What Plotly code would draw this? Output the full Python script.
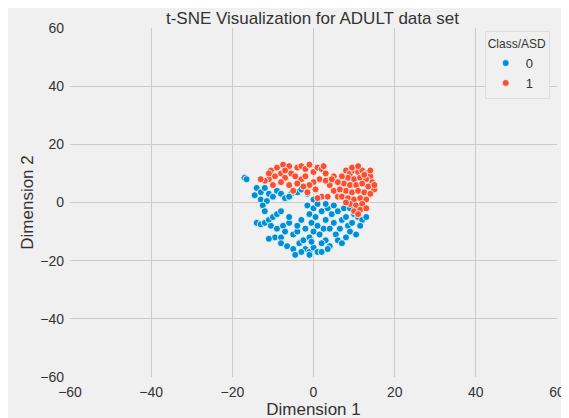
import plotly.graph_objects as go

red_x = [-10.5, -9, -7.5, -6, -8, -9.5, -11, -12, -7, -5.5, -4, -3, -2, -1, -4.5, -3, -6, -4, -2, 0, 1, 2, 3, 1.5, 0, -1,
         -1.5, 0.5, 2, 1, 3.5, 4, 3, 5, 6, -8, -10, -5, -2.5, 2.5, -13, -11, -7,
         8, 9, 10, 11, 12, 13, 14, 8.5, 10, 11.5, 13, 14.5, 7.5, 9, 10.5, 12, 13.5, 15, 8, 9.5, 11, 12.5, 14, 7, 8.5, 10,
         11.5, 13, 9, 10.5, 12, 10, 11.5, 6.5, 7, 6, 12.5, 9.5, 11, 14, 15, 8, 11, 13, 5, 4.5]
red_y = [11, 12, 13, 12.5, 10, 9, 8, 7.5, 8.5, 10, 12, 12.5, 11.5, 13, 9, 8, 6, 6.5, 9, 10.5, 12, 11.5, 10, 8, 7, 6,
         3.5, 4.5, 2, 1.5, 2, 6, 7.5, 4, 2, 7, 6, 4, 5.5, 12.5, 8, 10, 11,
         11, 10, 11, 10.5, 11, 10, 9, 8.5, 8, 8.5, 8, 7, 6.5, 6, 6, 6.5, 5.5, 4.5, 4, 3.5, 4, 3.5, 3, 2, 1.5, 1,
         1.5, 1, -0.5, -1, -0.5, -3, -2.5, 4.5, 9, 7, 9.5, 12, 12.5, 11, 6, 0, -4, -2, 9, 8]

blue_x = [-17, -16.5, -14, -13, -12, -11, -14.5, -13, -11.5, -10, -9, -8, -7, -5.5, -4, -3, -6, -12.5, -1.5,
          -14, -13, -12, -11, -10, -9, -8, -10.5, -9, -7.5, -6, -9.5, -8, -11, -7, -5, -4, -8, -6.5, -5, -3.5, -2,
          -1, 0, 1, -3, -4.5, -2.5, -1, -6, -12,
          -1.5, 0, -1, 0.5, -0.5, 1, 0, 1.5, 2.5, 3, 2, 3.5, 4.5, 5, 4, 5.5, 3, 2, 4, 6, 6.5, 7, 6, 7.5, 8, 8.5,
          9.5, 10, 11, 12, 13, 11.5, 9, 8, 7, 10.5, 0, 1, -0.5, -2, 2, 3.5, -1, 5, 9, 3, -3, -4]
blue_y = [8.5, 8, 5, 3.5, 5, 3, 2.5, 1, 0.5, 2, 4, 3, 1.5, 3, 3.5, 4.5, 2, -1, 3,
          -7, -7.5, -7, -6, -5, -4, -3, -8, -9, -8, -7, -12, -12, -12.5, -10, -11, -10, -14, -15, -16, -14, -16,
          -17, -15.5, -17, -17, -18, -13, -12, -5, -3,
          -1, -2, -4, -5, -7, -8, -10, -11, -9, -6, -3, -2, -4, -7, -9, -11, -13, -14, -15, -13, -9, -6, -3, -2, -5, -8,
          -7, -4, -5, -6, -5, -8, -10, -12, -14, -11, 1, -0.5, -13.5, -9, -17, -16, -18, -1, -2, -0.5, -6, -8]

fig = go.Figure()
for name, xs, ys, col in [("0", blue_x, blue_y, "#008fd5"), ("1", red_x, red_y, "#fc4f30")]:
    fig.add_trace(go.Scatter(x=xs, y=ys, mode="markers", name=name,
                             marker=dict(color=col, size=7, line=dict(color="white", width=0.8))))

axis = dict(range=[-60, 60], dtick=20, gridcolor="#cbcbcb", gridwidth=1.3, zeroline=False,
            showline=False, tickfont=dict(size=14, color="#333"), ticks="", ticklabelstandoff=5)
fig.update_layout(
    width=569, height=418,
    paper_bgcolor="#f0f0f0", plot_bgcolor="#f0f0f0",
    margin=dict(l=62, r=16, t=20, b=42),
    font=dict(family="Liberation Sans", color="#333"),
    title=dict(text="t-SNE Visualization for ADULT data set", x=0.535, y=0.99, xanchor="center",
               font=dict(size=17)),
    xaxis=dict(axis, title=dict(text="Dimension 1", font=dict(size=17), standoff=2)),
    yaxis=dict(axis, title=dict(text="Dimension 2", font=dict(size=17), standoff=2)),
    legend=dict(title=dict(text="Class/ASD", font=dict(size=12)), x=0.985, y=0.99, xanchor="right", yanchor="top",
                bgcolor="#f0f0f0", bordercolor="#dddddd", borderwidth=1, font=dict(size=13)),
)
fig.write_html("out.html")
